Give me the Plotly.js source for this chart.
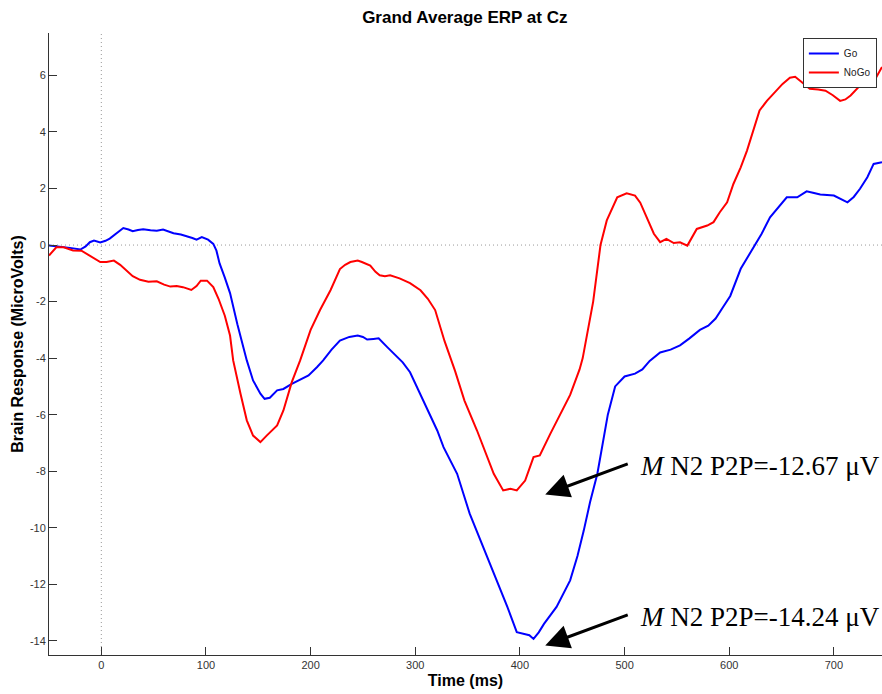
<!DOCTYPE html>
<html>
<head>
<meta charset="utf-8">
<script src="https://cdn.plot.ly/plotly-3.0.1.min.js"></script>
<style>html,body{margin:0;padding:0;background:#fff;}#chart{width:882px;height:694px;}</style>
</head>
<body>
<div id="chart"></div>
<script>
// Go condition (blue)
const goTime = [-50,-40,-30,-20,-15,-11,-7,-1,4,8,14,21,26,30,35,40,47,53,59,64,69,76,82,87,91,96,102,107,110,113,118,123,130,135,139,145,152,156,161,168,174,182,190,198,206,212,220,228,237,245,250,254,260,265,273,281,288,295,304,314,321,327,340,352,365,378,388,397,405,409,413,418,423,435,448,455,461,467,474,479,484,491,500,510,517,524,534,544,553,562,572,580,587,594,601,611,623,631,639,647,655,665,674,680,687,700,706,713,719,725,732,738,746];
const goVals = [-0.02,-0.05,-0.1,-0.16,-0.05,0.1,0.16,0.09,0.15,0.23,0.4,0.6,0.55,0.49,0.53,0.56,0.52,0.51,0.55,0.48,0.42,0.37,0.31,0.25,0.19,0.28,0.19,0.04,-0.2,-0.65,-1.15,-1.7,-2.8,-3.5,-4.08,-4.79,-5.26,-5.44,-5.4,-5.14,-5.09,-4.91,-4.77,-4.61,-4.32,-4.08,-3.7,-3.38,-3.25,-3.2,-3.25,-3.34,-3.32,-3.3,-3.6,-3.9,-4.15,-4.5,-5.2,-6.0,-6.56,-7.15,-8.09,-9.5,-10.69,-11.86,-12.8,-13.69,-13.75,-13.8,-13.93,-13.7,-13.4,-12.8,-11.86,-11.0,-10.1,-9.1,-8.09,-7.1,-6.0,-5.0,-4.65,-4.55,-4.4,-4.1,-3.8,-3.7,-3.55,-3.3,-3.0,-2.85,-2.6,-2.2,-1.8,-0.84,-0.08,0.4,0.98,1.35,1.69,1.69,1.9,1.85,1.79,1.75,1.65,1.51,1.7,1.99,2.4,2.87,2.93];

// NoGo condition (red)
const nogoTime = [-50,-43,-36,-27,-19,-11,-1,5,12,18,24,30,37,45,53,60,66,72,78,86,91,95,101,107,112,118,123,126,133,139,145,152,158,163,168,174,182,190,200,209,219,228,233,238,245,249,257,262,266,271,276,285,295,305,312,319,328,338,347,359,365,375,384,391,397,405,413,419,429,438,448,457,460,470,477,483,493,502,510,515,521,528,534,540,547,553,560,569,579,585,591,598,604,611,617,624,629,636,644,651,658,663,668,677,685,692,699,706,711,716,725,735,740,746];
const nogoVals = [-0.37,-0.08,-0.08,-0.19,-0.2,-0.37,-0.6,-0.6,-0.55,-0.7,-0.9,-1.1,-1.23,-1.3,-1.28,-1.4,-1.47,-1.45,-1.49,-1.59,-1.45,-1.26,-1.26,-1.49,-1.9,-2.5,-3.2,-4.08,-5.26,-6.2,-6.74,-6.97,-6.74,-6.55,-6.38,-5.85,-4.85,-4.08,-3.0,-2.3,-1.6,-0.85,-0.7,-0.6,-0.55,-0.6,-0.73,-0.95,-1.07,-1.1,-1.07,-1.18,-1.35,-1.6,-1.9,-2.3,-3.4,-4.45,-5.5,-6.56,-7.15,-8.09,-8.68,-8.62,-8.68,-8.33,-7.5,-7.44,-6.68,-6.0,-5.3,-4.4,-4.0,-2.0,0.0,0.87,1.69,1.83,1.75,1.5,0.98,0.4,0.1,0.22,0.07,0.1,-0.02,0.57,0.69,0.81,1.16,1.51,2.16,2.75,3.34,4.2,4.76,5.1,5.4,5.7,5.92,5.95,5.8,5.53,5.5,5.46,5.3,5.1,5.15,5.29,5.64,5.82,5.9,6.3];

const xTicks = [0,100,200,300,400,500,600,700];
const yTicks = [-14,-12,-10,-8,-6,-4,-2,0,2,4,6];
const seriesNames = ['Go','NoGo'];
const chartTitle = 'Grand Average ERP at Cz';
const xLabel = 'Time (ms)';
const yLabel = 'Brain Response (MicroVolts)';
const noteTexts = ['<i>M</i> N2 P2P=-12.67 μV', '<i>M</i> N2 P2P=-14.24 μV'];
const noteAnchor = [[424.2,-8.82],[424.2,-14.16]];
const noteTextPos = [[513,-7.83],[513,-13.14]];

const sans = '"Liberation Sans", Arial, Helvetica, sans-serif';
const serif = '"Liberation Serif", "Times New Roman", Times, serif';

const traces = [
  {x: goTime, y: goVals, name: seriesNames[0], type: 'scatter', mode: 'lines',
   line: {color: '#0000ff', width: 2}},
  {x: nogoTime, y: nogoVals, name: seriesNames[1], type: 'scatter', mode: 'lines',
   line: {color: '#ff0000', width: 2}}
];

const annotations = [];
for (let i = 0; i < noteTexts.length; i++) {
  annotations.push({
    x: noteTextPos[i][0], y: noteTextPos[i][1], xref: 'x', yref: 'y',
    text: noteTexts[i], showarrow: false, xanchor: 'left', yanchor: 'middle',
    font: {family: serif, size: 27, color: '#000'}
  });
  annotations.push({
    x: noteAnchor[i][0], y: noteAnchor[i][1], xref: 'x', yref: 'y',
    text: '', showarrow: true, ax: 84, ay: -31,
    arrowhead: 2, arrowsize: 1.6, arrowwidth: 3, arrowcolor: '#000', standoff: 0
  });
}

const layout = {
  width: 882, height: 694,
  margin: {l: 49, r: 0, t: 33, b: 39},
  paper_bgcolor: '#fff', plot_bgcolor: '#fff',
  font: {family: sans, size: 11, color: '#333'},
  title: {text: '<b>' + chartTitle + '</b>', x: 0.527, xanchor: 'center', y: 0.975, yanchor: 'middle',
          font: {family: sans, size: 17, color: '#000'}},
  showlegend: true,
  legend: {x: 0.905, y: 0.992, xanchor: 'left', yanchor: 'top',
           bgcolor: '#fff', bordercolor: '#333', borderwidth: 1,
           font: {family: sans, size: 10, color: '#222'},
           itemwidth: 30, tracegroupgap: 0},
  xaxis: {
    range: [-50, 746], autorange: false, tickvals: xTicks, ticktext: xTicks.map(String),
    ticks: 'inside', ticklen: 8, tickcolor: '#333', tickwidth: 1,
    showline: true, linecolor: '#333', linewidth: 1, mirror: false,
    showgrid: false, zeroline: false,
    tickfont: {family: sans, size: 11, color: '#333'},
    title: {text: '<b>' + xLabel + '</b>', font: {family: sans, size: 16, color: '#000'}, standoff: 4}
  },
  yaxis: {
    range: [-14.5, 7.5], autorange: false, tickvals: yTicks, ticktext: yTicks.map(String),
    ticks: 'inside', ticklen: 8, tickcolor: '#333', tickwidth: 1,
    showline: true, linecolor: '#333', linewidth: 1, mirror: false,
    showgrid: false, zeroline: false,
    tickfont: {family: sans, size: 11, color: '#333'},
    title: {text: '<b>' + yLabel + '</b>', font: {family: sans, size: 16, color: '#000'}, standoff: 2}
  },
  shapes: [
    {type: 'line', xref: 'x', yref: 'paper', x0: 0, x1: 0, y0: 0, y1: 1, layer: 'below',
     line: {color: '#999', width: 1, dash: '1px,3px'}},
    {type: 'line', xref: 'paper', yref: 'y', x0: 0, x1: 1, y0: 0, y1: 0, layer: 'below',
     line: {color: '#999', width: 1, dash: '1px,3px'}}
  ],
  annotations: annotations
};

Plotly.newPlot('chart', traces, layout, {displayModeBar: false, staticPlot: true});
</script>
</body>
</html>
